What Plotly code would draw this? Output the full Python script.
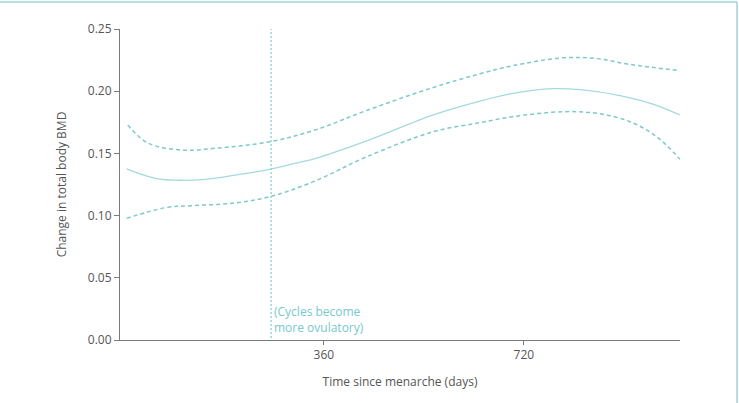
import plotly.graph_objects as go

# Data
days_mid = [5, 56, 104, 151, 200, 263, 317, 344, 437, 557, 641, 700, 772, 821, 893, 952, 1001]
bmd_mid = [0.1375, 0.1300, 0.1284, 0.1294, 0.1326, 0.1372, 0.1430, 0.1458, 0.1600, 0.1809,
           0.1920, 0.1982, 0.2020, 0.2012, 0.1965, 0.1897, 0.1809]

days_up = [7, 43, 104, 164, 263, 344, 437, 557, 641, 700, 790, 851, 911, 1001]
bmd_up = [0.1728, 0.1584, 0.1527, 0.1541, 0.1594, 0.1688, 0.1845, 0.2030, 0.2140, 0.2205,
          0.2268, 0.2262, 0.2215, 0.2165]

days_lo = [5, 74, 122, 194, 263, 344, 437, 557, 641, 700, 790, 851, 911, 959, 1001]
bmd_lo = [0.0978, 0.1063, 0.1080, 0.1099, 0.1152, 0.1278, 0.1473, 0.1674, 0.1747, 0.1795,
          0.1835, 0.1822, 0.1755, 0.1634, 0.1453]

ovulatory_day = 265
x_ticks = [360, 720]
y_ticks = [0.0, 0.05, 0.10, 0.15, 0.20, 0.25]
y_tick_labels = ["0.00", "0.05", "0.10", "0.15", "0.20", "0.25"]

FONT = "Open Sans"
TEAL_SOLID = "#a3dadd"
TEAL_DASH = "#7fc9c9"
AXIS = "#7a7a7a"

fig = go.Figure()
fig.add_trace(go.Scatter(x=days_up, y=bmd_up, mode="lines",
                         line=dict(color=TEAL_DASH, width=1.5, dash="4px,3px", shape="spline"),
                         hoverinfo="skip"))
fig.add_trace(go.Scatter(x=days_mid, y=bmd_mid, mode="lines",
                         line=dict(color=TEAL_SOLID, width=1.3, shape="spline"),
                         hoverinfo="skip"))
fig.add_trace(go.Scatter(x=days_lo, y=bmd_lo, mode="lines",
                         line=dict(color=TEAL_DASH, width=1.5, dash="4px,3px", shape="spline"),
                         hoverinfo="skip"))

# Vertical marker line
fig.add_shape(type="line", xref="x", yref="y", x0=ovulatory_day, x1=ovulatory_day,
              y0=-0.0145, y1=0.25, line=dict(color="#96d6d8", width=1.5, dash="2px,2px"))
fig.add_annotation(x=ovulatory_day, y=0.0, xref="x", yref="y", xanchor="left", yanchor="bottom",
                   xshift=1, yshift=2, align="left", showarrow=False,
                   text="(Cycles become<br>more ovulatory)",
                   font=dict(family=FONT, size=12, color="#76c9ce"))

# Frame (top and right border)
fig.add_shape(type="line", xref="paper", yref="paper", x0=-0.22, x1=1.1018, y0=1.0868, y1=1.0868,
              line=dict(color="#9fd3da", width=1.5))
fig.add_shape(type="line", xref="paper", yref="paper", x0=1.1018, x1=1.1018, y0=1.0868, y1=-0.21,
              line=dict(color="#9fd3da", width=1.5))

fig.update_layout(
    width=739, height=403,
    margin=dict(l=120, r=59, t=29, b=63),
    paper_bgcolor="white", plot_bgcolor="white",
    showlegend=False,
    font=dict(family=FONT, size=12, color="#555555"),
    xaxis=dict(range=[-7, 1001], tickvals=x_ticks, ticktext=[str(v) for v in x_ticks],
               showgrid=False, zeroline=False, showline=True, linecolor=AXIS, linewidth=1,
               ticks="outside", ticklen=4, tickcolor=AXIS,
               title=dict(text="Time since menarche (days)", font=dict(size=12, color="#555555"),
                          standoff=15)),
    yaxis=dict(range=[0, 0.25], tickvals=y_ticks, ticktext=y_tick_labels,
               showgrid=False, zeroline=False, showline=True, linecolor=AXIS, linewidth=1,
               ticks="outside", ticklen=5, tickcolor=AXIS,
               title=dict(text="Change in total body BMD", font=dict(size=12, color="#555555"),
                          standoff=18)),
)

fig.write_html("out.html")
